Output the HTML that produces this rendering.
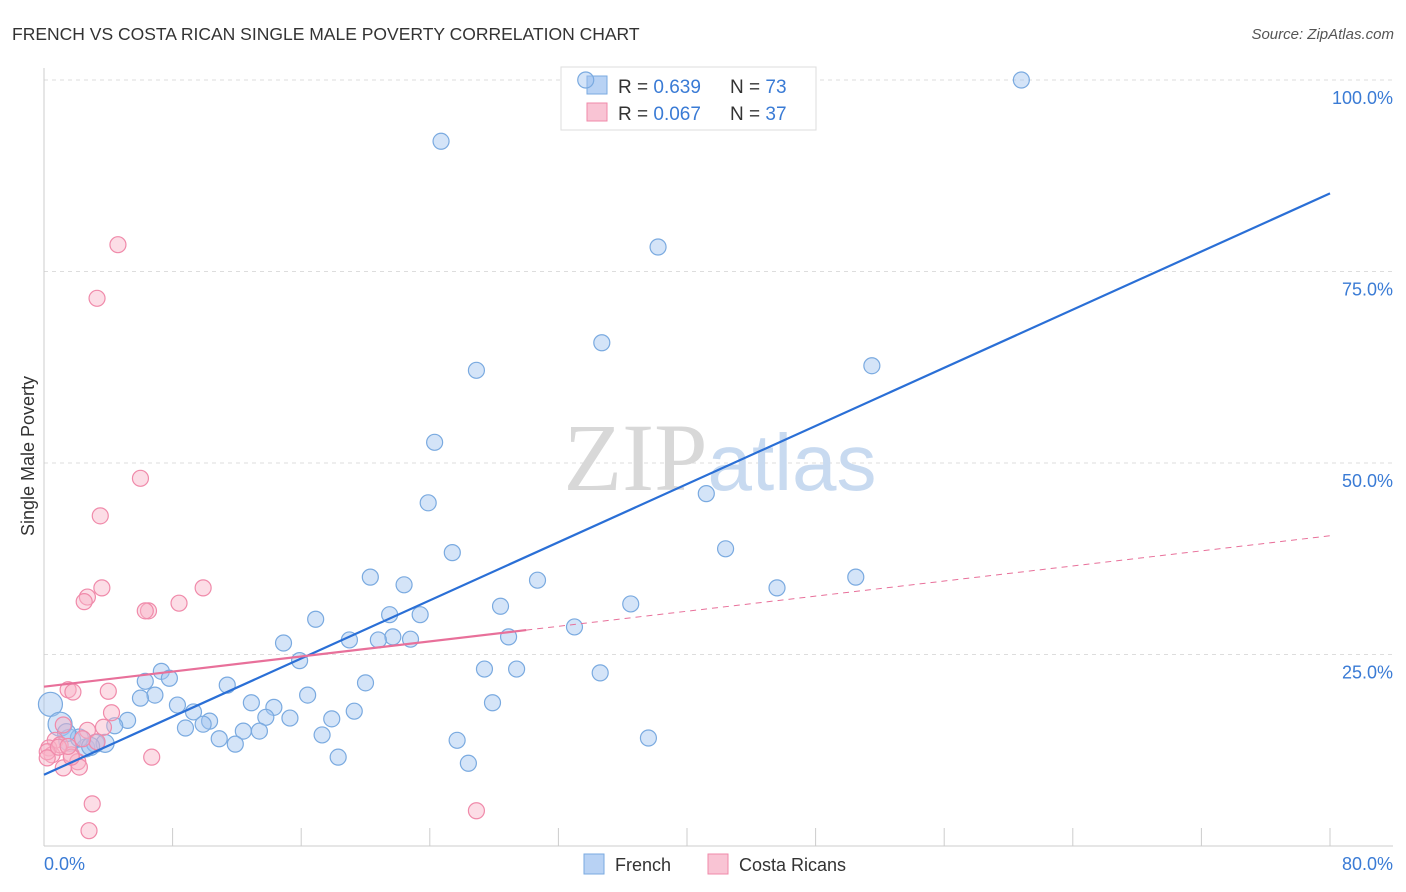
<!DOCTYPE html>
<html><head><meta charset="utf-8"><style>
body{margin:0;background:#fff;font-family:"Liberation Sans",sans-serif;}
svg{display:block}
</style></head><body>
<svg width="1406" height="892" xmlns="http://www.w3.org/2000/svg">
<text x="12" y="40" font-size="17.5" fill="#333">FRENCH VS COSTA RICAN SINGLE MALE POVERTY CORRELATION CHART</text>
<text x="1394" y="39" font-size="15" fill="#555" text-anchor="end" font-style="italic">Source: ZipAtlas.com</text>
<g id="grid"></g>
<text x="720" y="490" font-size="96" text-anchor="middle" fill="#ddd" font-family="Liberation Serif,serif"><tspan fill="#d8d8d8">ZIP</tspan><tspan fill="#c8daf0" font-family="Liberation Sans,sans-serif" font-size="80">atlas</tspan></text>
<g>
<rect x="561" y="67" width="255" height="63" fill="#fff" stroke="#ddd"/>
<rect x="587" y="76" width="20" height="18" fill="#b8d2f4" stroke="#7aaae0"/>
<rect x="587" y="103" width="20" height="18" fill="#f9c4d4" stroke="#f08aaa"/>
<text x="618" y="93" font-size="19" fill="#333">R = <tspan fill="#3a7bd5">0.639</tspan></text>
<text x="730" y="93" font-size="19" fill="#333">N = <tspan fill="#3a7bd5">73</tspan></text>
<text x="618" y="120" font-size="19" fill="#333">R = <tspan fill="#3a7bd5">0.067</tspan></text>
<text x="730" y="120" font-size="19" fill="#333">N = <tspan fill="#3a7bd5">37</tspan></text>
</g>
<g id="pts"></g>
<g id="lines"></g>
<text x="34" y="456" font-size="18" fill="#333" text-anchor="middle" transform="rotate(-90 34 456)">Single Male Poverty</text>
<text x="44" y="870" font-size="18" fill="#3a7bd5">0.0%</text>
<text x="1393" y="870" font-size="18" fill="#3a7bd5" text-anchor="end">80.0%</text>
<g>
<rect x="584" y="854" width="20" height="20" fill="#b8d2f4" stroke="#7aaae0"/>
<text x="615" y="871" font-size="18" fill="#333">French</text>
<rect x="708" y="854" width="20" height="20" fill="#f9c4d4" stroke="#f08aaa"/>
<text x="739" y="871" font-size="18" fill="#333">Costa Ricans</text>
</g>
</svg>
<script>
const yTicks=[25,50,75,100];
const yTickLabels=["25.0%","50.0%","75.0%","100.0%"];
const frenchX=[60.8,24.7,38.2,34.7,26.9,51.5,24.3,41.2,23.9,42.4,25.4,20.3,50.5,30.7,22.4,45.6,36.5,28.4,21.5,23.4,16.9,33.0,21.7,20.8,22.8,19.0,28.9,14.9,15.9,29.4,27.4,34.6,7.3,7.8,6.3,20.0,11.4,6.9,6.0,16.4,27.9,12.9,8.3,14.3,19.3,9.3,13.8,15.3,17.9,10.3,9.9,5.2,8.8,12.4,13.4,4.4,17.3,10.9,11.9,25.7,37.6,18.3,26.4,0.4,1.0,1.6,2.6,3.2,3.8,2.2,33.7,1.4,2.9];
const frenchY=[100,92.0,78.2,65.7,62.1,62.7,52.7,46.0,44.8,38.8,38.3,35.1,35.1,34.7,34.1,33.7,31.6,31.3,30.2,30.2,29.6,28.6,27.3,26.9,27.0,26.9,27.3,26.5,24.2,23.1,23.1,22.6,22.8,21.9,21.5,21.3,21.0,19.7,19.3,19.7,18.7,18.7,18.4,18.1,17.6,17.5,16.8,16.7,16.6,16.3,15.9,16.4,15.4,15.0,15.0,15.7,14.5,14.0,13.3,13.8,14.1,11.6,10.8,18.5,15.9,13.8,12.8,13.4,13.4,14.1,100,14.8,13.0];
const frenchR=[8,8,8,8,8,8,8,8,8,8,8,8,8,8,8,8,8,8,8,8,8,8,8,8,8,8,8,8,8,8,8,8,8,8,8,8,8,8,8,8,8,8,8,8,8,8,8,8,8,8,8,8,8,8,8,8,8,8,8,8,8,8,8,12,12,11,9,9,9,9,8,9,9];
const costaX=[4.6,3.3,6.0,3.5,3.6,9.9,2.7,2.5,8.4,6.5,6.3,1.5,1.8,4.0,4.2,1.2,2.7,3.7,0.7,0.3,0.5,1.0,1.7,2.1,1.2,2.2,3.3,6.7,3.0,2.8,26.9,1.7,0.2,0.2,0.9,2.4,1.5];
const costaY=[78.5,71.5,48.0,43.1,33.7,33.7,32.5,31.9,31.7,30.7,30.7,20.4,20.1,20.2,17.4,15.8,15.1,15.5,13.8,12.8,11.9,13.2,11.9,11.0,10.2,10.3,13.6,11.6,5.5,2.0,4.6,11.6,12.3,11.5,12.9,14.0,13.0];
const frenchLine=[9.3,85.2];
const costaLine=[20.8,40.5];
const costaSolidEnd=30;
const X=v=>44+v*(1330-44)/80;
const Y=v=>846-v*(846-80)/100;
const NS="http://www.w3.org/2000/svg";
function mk(t,a,p){const e=document.createElementNS(NS,t);for(const k in a)e.setAttribute(k,a[k]);p.appendChild(e);return e;}
const grid=document.getElementById('grid');
yTicks.forEach((t,i)=>{
 const l=mk('line',{x1:44,x2:1393,y1:Y(t),y2:Y(t),stroke:'#ddd','stroke-dasharray':'4,4'},grid);
 
 
 const tx=mk('text',{x:1393,y:Y(t)+24,'font-size':18,fill:'#3a7bd5','text-anchor':'end'},grid);
 tx.textContent=yTickLabels[i];
 
 
});
const ax=mk('line',{x1:44,x2:44,y1:68,y2:846,stroke:'#ccc'},grid);


const bx=mk('line',{x1:44,x2:1393,y1:846,y2:846,stroke:'#ccc'},grid);


for(let i=0;i<=10;i++){const t=mk('line',{x1:X(i*8),x2:X(i*8),y1:828,y2:846,stroke:'#ccc'},grid);
 
 }
const pts=document.getElementById('pts');
frenchX.forEach((x,i)=>{const c=mk('circle',{cx:X(x),cy:Y(frenchY[i]),r:frenchR[i],fill:'rgba(160,196,240,0.45)',stroke:'#7aaae0','stroke-width':1.2},pts);
 
 });
costaX.forEach((x,i)=>{const c=mk('circle',{cx:X(x),cy:Y(costaY[i]),r:8,fill:'rgba(248,180,200,0.45)',stroke:'#f08aaa','stroke-width':1.2},pts);
 
 });
const lines=document.getElementById('lines');
const fl=mk('line',{x1:X(0),y1:Y(frenchLine[0]),x2:X(80),y2:Y(frenchLine[1]),stroke:'#2a6fd6','stroke-width':2.2},lines);


const cy=x=>costaLine[0]+(costaLine[1]-costaLine[0])*x/80;
const cl=mk('line',{x1:X(0),y1:Y(cy(0)),x2:X(costaSolidEnd),y2:Y(cy(costaSolidEnd)),stroke:'#e8709a','stroke-width':2.2},lines);


const cd=mk('line',{x1:X(costaSolidEnd),y1:Y(cy(costaSolidEnd)),x2:X(80),y2:Y(cy(80)),stroke:'#e8709a','stroke-width':1,'stroke-dasharray':'6,5'},lines);


</script>
</body></html>
